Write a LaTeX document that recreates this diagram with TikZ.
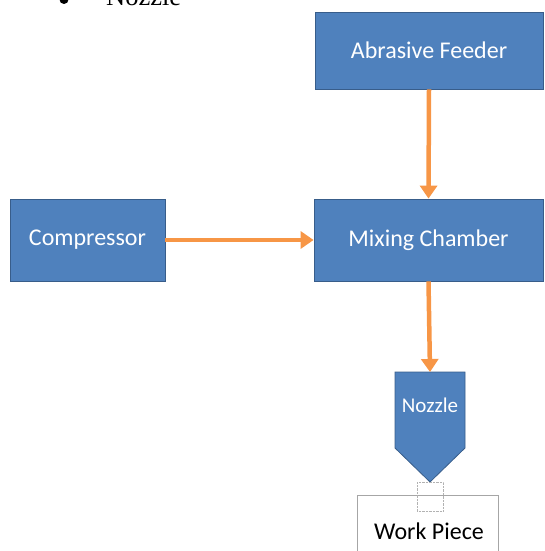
\documentclass[tikz,border=0pt]{standalone}
\usepackage{fontspec}
\setmainfont{Carlito}
\newfontfamily\timesfont{Liberation Serif}
\usetikzlibrary{arrows.meta}
\definecolor{boxBlue}{HTML}{4F81BD}
\definecolor{edgeBlue}{HTML}{385D8A}
\definecolor{flowOrange}{HTML}{F79646}
\begin{document}
\begin{tikzpicture}
[x=1pt,y=-1pt,%
  boxDecorate/.style={shape=rectangle,fill=boxBlue,draw=edgeBlue,thick,
    text=white,font=\fontsize{24}{28}\selectfont,inner sep=0pt},%
  flowDecorate/.style={draw=flowOrange,line width=4.5pt,
    -{Triangle[length=13pt,width=17pt]}}]
\useasboundingbox (0,0) rectangle (544,551);
\begin{scope}
\clip (0,0) rectangle (544,551);
%% heading text, cut off at the top
\node (bullet) at (64,-0.5) [shape=circle,fill=black,inner sep=0pt,minimum size=9pt] {};
\node (heading) [anchor=base west,font=\timesfont\fontsize{26.5}{30}\selectfont,inner sep=0pt]
  at (106,5.5) {Nozzle};
%% boxes
\foreach \nodename/\nodelabel/\x/\y/\w/\h in {
  feeder/Abrasive Feeder/429/50.5/228/77,
  mixer/Mixing Chamber/428.5/240/229/82,
  compressor/Compressor/87.5/240/155/82}
{
  \node (\nodename) at (\x,\y) [boxDecorate,minimum width=\w pt,minimum height=\h pt] {\nodelabel};
}
%% nozzle
\filldraw[fill=boxBlue,draw=edgeBlue,thick]
  (395,372) -- (465,372) -- (465,448) -- (430,482) -- (395,448) -- cycle;
\coordinate (nozzletop) at (430,372);
\node (nozzle) at (430,405) [text=white,font=\fontsize{21}{25}\selectfont] {Nozzle};
%% work piece
\draw[gray!70,thin] (357,562) -- (357,495) -- (498,495) -- (498,562);
\node (work) at (429,531) [font=\fontsize{24}{28}\selectfont] {Work Piece};
\draw[gray!60,densely dotted] (417,482) rectangle (443,511);
%% flows
\path
\foreach \startnode/\endnode in {
  compressor.east/mixer.west, feeder.south/mixer.north, mixer.south/nozzletop}
{
  (\startnode) edge[flowDecorate] (\endnode)
};
\end{scope}
\end{tikzpicture}
\end{document}
